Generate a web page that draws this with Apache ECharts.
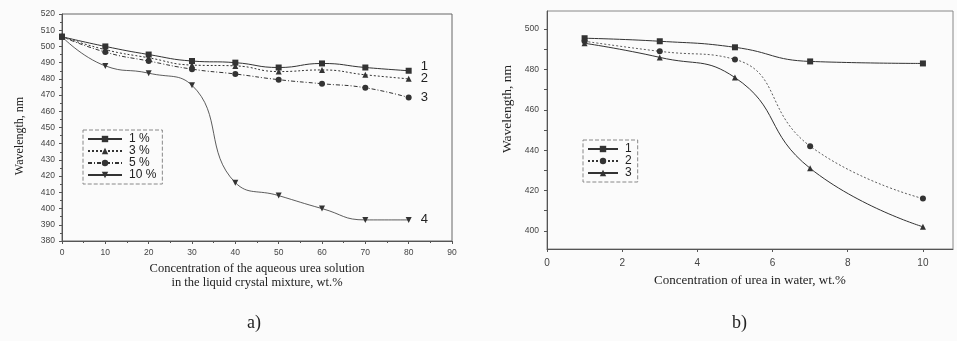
<!DOCTYPE html>
<html>
<head>
<meta charset="utf-8">
<script src="https://cdn.jsdelivr.net/npm/echarts@6/dist/echarts.min.js"></script>
<style>
html,body{margin:0;padding:0;background:#fbfbfb;}
#c{width:957px;height:341px;}
</style>
</head>
<body>
<div id="c"></div>
<script>
// Panel a data
const xA = [0, 10, 20, 30, 40, 50, 60, 70, 80];
const a1 = [506, 500, 495, 491, 490, 487, 489.5, 487, 485];
const a3 = [506, 498, 493, 488.5, 488, 484.5, 485.5, 482.5, 480];
const a5 = [506, 496.5, 491, 486, 483, 479.5, 477, 474.5, 468.5];
const a10 = [506, 488, 483.5, 476, 416, 408, 400, 393, 393];
const namesA = ['1 %', '3 %', '5 %', '10 %'];
const endA = ['1', '2', '3', '4'];
const yTicksA = [380, 390, 400, 410, 420, 430, 440, 450, 460, 470, 480, 490, 500, 510, 520];
const xTicksA = [0, 10, 20, 30, 40, 50, 60, 70, 80, 90];

// Panel b data
const xB = [1, 3, 5, 7, 10];
const b1 = [495.5, 494, 491, 484, 483];
const b2 = [494, 489, 485, 442, 416];
const b3 = [493, 486, 476, 431, 402];
const namesB = ['1', '2', '3'];
const yTicksB = [400, 420, 440, 460, 480, 500];
const yMinorB = [400, 410, 420, 430, 440, 450, 460, 470, 480, 490, 500];
const xTicksB = [0, 2, 4, 6, 8, 10];

const ink = '#333';
const pair = (xs, ys) => xs.map((x, i) => [x, ys[i]]);

const chart = echarts.init(document.getElementById('c'));

function sA(name, data, symbol, type, width, rot, idx) {
  return {
    name: name, type: 'line', xAxisIndex: 0, yAxisIndex: 0,
    data: pair(xA, data), smooth: true,
    symbol: symbol, symbolSize: 6, symbolRotate: rot || 0,
    lineStyle: {color: ink, width: width, type: type},
    itemStyle: {color: ink},
    endLabel: {show: true, formatter: endA[idx], color: '#222', fontSize: 13,
      fontFamily: 'Liberation Sans', distance: 12, offset: [0, idx === 0 ? -4 : 0]},
    z: 3
  };
}
function sB(name, data, symbol, type, width) {
  return {
    name: name, type: 'line', xAxisIndex: 1, yAxisIndex: 1,
    data: pair(xB, data), smooth: true,
    symbol: symbol, symbolSize: 6,
    lineStyle: {color: ink, width: width, type: type},
    itemStyle: {color: ink}, z: 3
  };
}

const tickFont = {color: '#444', fontSize: 8.5, fontFamily: 'Liberation Sans'};
const titleFont = {color: '#222', fontFamily: 'Liberation Serif'};

chart.setOption({
  backgroundColor: '#fbfbfb',
  animation: false,
  grid: [
    {left: 62, right: 505, top: 14, bottom: 100, show: true, borderColor: '#666', borderWidth: 1},
    {left: 547, right: 4, top: 11, bottom: 92, show: true, borderColor: '#888', borderWidth: 1}
  ],
  xAxis: [
    {gridIndex: 0, type: 'value', min: 0, max: 90, interval: 10,
      axisLine: {show: true, lineStyle: {color: '#555'}},
      axisTick: {show: true, length: 3, lineStyle: {color: '#555'}, customValues: xTicksA},
      minorTick: {show: true, splitNumber: 2, length: 2},
      axisLabel: Object.assign({margin: 7, customValues: xTicksA}, tickFont),
      splitLine: {show: false},
      name: 'Concentration of the aqueous urea solution\nin the liquid crystal mixture, wt.%',
      nameLocation: 'middle', nameGap: 20,
      nameTextStyle: Object.assign({fontSize: 12.5, lineHeight: 14}, titleFont)},
    {gridIndex: 1, type: 'value', min: 0, max: 10.8,
      axisLine: {show: true, lineStyle: {color: '#555'}},
      axisTick: {show: true, length: 3, lineStyle: {color: '#555'}, customValues: xTicksB},
      axisLabel: Object.assign({margin: 9, customValues: xTicksB}, tickFont, {fontSize: 10}),
      splitLine: {show: false},
      name: 'Concentration of urea in water, wt.%',
      nameLocation: 'middle', nameGap: 25,
      nameTextStyle: Object.assign({fontSize: 13}, titleFont)}
  ],
  yAxis: [
    {gridIndex: 0, type: 'value', min: 380, max: 520, interval: 10,
      axisLine: {show: true, lineStyle: {color: '#555'}},
      axisTick: {show: true, length: 3, lineStyle: {color: '#555'}, customValues: yTicksA},
      minorTick: {show: true, splitNumber: 2, length: 2},
      axisLabel: Object.assign({margin: 7, customValues: yTicksA}, tickFont),
      splitLine: {show: false},
      name: 'Wavelength, nm', nameLocation: 'middle', nameGap: 36,
      nameTextStyle: Object.assign({fontSize: 12, padding: [0, 17, 0, 0]}, titleFont)},
    {gridIndex: 1, type: 'value', min: 391, max: 509,
      axisLine: {show: true, lineStyle: {color: '#555'}},
      axisTick: {show: true, length: 3, lineStyle: {color: '#555'}, customValues: yMinorB},
      axisLabel: Object.assign({margin: 8, customValues: yTicksB}, tickFont),
      splitLine: {show: false},
      name: 'Wavelength, nm', nameLocation: 'middle', nameGap: 33,
      nameTextStyle: Object.assign({fontSize: 13.5, padding: [0, 0, 0, 42]}, titleFont)}
  ],
  legend: [
    {data: namesA, left: 83, top: 130, orient: 'vertical', itemGap: 0,
      itemWidth: 34, itemHeight: 8, padding: [3, 6, 3, 4],
      borderColor: '#888', borderWidth: 1, borderType: 'dashed',
      textStyle: {fontSize: 12, color: '#222', fontFamily: 'Liberation Sans', padding: [0, 0, 0, 2]}},
    {data: namesB, left: 583, top: 140, orient: 'vertical', itemGap: 0,
      itemWidth: 30, itemHeight: 8, padding: [3, 6, 3, 4],
      borderColor: '#888', borderWidth: 1, borderType: 'dashed',
      textStyle: {fontSize: 12, color: '#222', fontFamily: 'Liberation Sans', padding: [0, 0, 0, 2]}}
  ],
  series: [
    sA(namesA[0], a1, 'rect', 'solid', 1, 0, 0),
    sA(namesA[1], a3, 'triangle', [2, 2], 1, 0, 1),
    sA(namesA[2], a5, 'circle', [4, 2, 1, 2], 1, 0, 2),
    sA(namesA[3], a10, 'triangle', 'solid', 0.8, 180, 3),
    sB(namesB[0], b1, 'rect', 'solid', 1),
    sB(namesB[1], b2, 'circle', [2, 2], 0.8),
    sB(namesB[2], b3, 'triangle', 'solid', 1)
  ],
  graphic: [
    {type: 'text', left: 247, top: 314, style: {text: 'a)', fontSize: 18, fill: '#222', fontFamily: 'Liberation Serif'}},
    {type: 'text', left: 732, top: 314, style: {text: 'b)', fontSize: 18, fill: '#222', fontFamily: 'Liberation Serif'}}
  ]
});
</script>
</body>
</html>
